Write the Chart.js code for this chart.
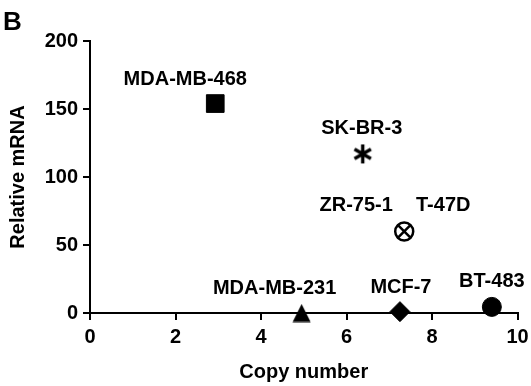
<!DOCTYPE html>
<html>
<head>
<meta charset="utf-8">
<script src="https://cdn.jsdelivr.net/npm/chart.js@4.4.1/dist/chart.umd.min.js"></script>
<style>
  html, body { margin: 0; padding: 0; background: #ffffff; }
  #wrap { position: relative; width: 531px; height: 386px; }
</style>
</head>
<body>
<div id="wrap"><canvas id="c" width="531" height="386"></canvas></div>
<script>
// Cell lines: gene copy number vs. relative mRNA level
const cellLines = ['MDA-MB-468', 'SK-BR-3', 'ZR-75-1', 'T-47D', 'MDA-MB-231', 'MCF-7', 'BT-483'];
const copyNumber = [2.93, 6.38, 7.35, 7.35, 4.95, 7.25, 9.4];
const relativeMRNA = [154, 117, 60, 60, 0, 1, 4.5];
const xTicks = [0, 2, 4, 6, 8, 10];
const yTicks = [0, 50, 100, 150, 200];

const FONT = '"Liberation Sans", Arial, sans-serif';

// Marker shapes drawn centred on their bounding box
function makeTriangle(size) {
  const cv = document.createElement('canvas');
  cv.width = size; cv.height = size;
  const g = cv.getContext('2d');
  g.fillStyle = '#000';
  g.beginPath();
  g.moveTo(size / 2, 0.5);
  g.lineTo(size - 0.5, size - 0.5);
  g.lineTo(0.5, size - 0.5);
  g.closePath();
  g.fill();
  return cv;
}
function makeAsterisk(size, lw) {
  const cv = document.createElement('canvas');
  cv.width = size; cv.height = size;
  const g = cv.getContext('2d');
  g.strokeStyle = '#000';
  g.lineWidth = lw;
  const c = size / 2, r = size / 2 - 1;
  g.beginPath();
  for (let k = 0; k < 3; k++) {
    const a = Math.PI / 2 + k * Math.PI / 3;
    g.moveTo(c + r * Math.cos(a), c - r * Math.sin(a));
    g.lineTo(c - r * Math.cos(a), c + r * Math.sin(a));
  }
  g.stroke();
  return cv;
}

// Per-line marker style and label placement (offset from the point, px)
const markerStyle = [
  { pointStyle: 'rect', radius: 12.5, fill: true },
  { pointStyle: makeAsterisk(21, 3.4), radius: 10, fill: true },
  { pointStyle: 'circle', radius: 9, fill: false, bw: 2.5 },
  { pointStyle: 'crossRot', radius: 9.5, fill: false, bw: 2.5 },
  { pointStyle: makeTriangle(19), radius: 10, fill: true },
  { pointStyle: 'rectRot', radius: 10, fill: true },
  { pointStyle: 'circle', radius: 9.5, fill: true }
];
const labelOffset = [[-30, -19], [-1, -20], [-48, -20], [39, -20], [-27, -19], [1, -19], [0, -20]];

const datasets = cellLines.map((name, i) => {
  const m = markerStyle[i];
  return {
    label: name,
    data: [{ x: copyNumber[i], y: relativeMRNA[i] }],
    pointStyle: m.pointStyle,
    pointRadius: m.radius,
    pointHoverRadius: m.radius,
    pointBackgroundColor: m.fill ? '#000' : 'rgba(0,0,0,0)',
    pointBorderColor: '#000',
    pointBorderWidth: m.bw || 1,
    showLine: false,
    clip: false
  };
});

const labelPlugin = {
  id: 'pointLabels',
  afterDatasetsDraw(chart) {
    const ctx = chart.ctx;
    ctx.save();
    ctx.fillStyle = '#000';
    ctx.font = 'bold 20px ' + FONT;
    ctx.textAlign = 'center';
    ctx.textBaseline = 'alphabetic';
    cellLines.forEach((name, i) => {
      const p = chart.getDatasetMeta(i).data[0];
      ctx.fillText(name, p.x + labelOffset[i][0], p.y + labelOffset[i][1]);
    });
    // panel letter
    ctx.textAlign = 'left';
    ctx.font = 'bold 26px ' + FONT;
    ctx.fillText('B', 3, 30);
    ctx.restore();
  }
};

const tickFont = { family: FONT, size: 20, weight: 'bold' };

new Chart(document.getElementById('c'), {
  type: 'scatter',
  data: { datasets },
  plugins: [labelPlugin],
  options: {
    responsive: false,
    animation: false,
    layout: { padding: { top: 41, right: 11, left: 0, bottom: 0 } },
    plugins: { legend: { display: false }, tooltip: { enabled: false } },
    scales: {
      x: {
        type: 'linear',
        min: 0, max: 10,
        afterFit(s) { s.height = 73; s.paddingLeft = 0; s.paddingRight = 0; },
        afterBuildTicks(s) { s.ticks = xTicks.map(v => ({ value: v })); },
        border: { color: '#000', width: 2 },
        grid: { drawOnChartArea: false, drawTicks: true, tickLength: 7, color: '#000', lineWidth: 2 },
        ticks: { font: tickFont, color: '#000', padding: 5, maxRotation: 0 },
        title: { display: true, text: 'Copy number', font: tickFont, color: '#000', padding: { top: 2, bottom: 2 } }
      },
      y: {
        type: 'linear',
        min: 0, max: 200,
        afterFit(s) { s.width = 90; s.paddingTop = 0; s.paddingBottom = 0; },
        afterBuildTicks(s) { s.ticks = yTicks.map(v => ({ value: v })); },
        border: { color: '#000', width: 2 },
        grid: { drawOnChartArea: false, drawTicks: true, tickLength: 7, color: '#000', lineWidth: 2 },
        ticks: { font: tickFont, color: '#000', padding: 5 },
        title: { display: true, text: 'Relative mRNA', font: tickFont, color: '#000', padding: { top: 6, bottom: 0 } }
      }
    }
  }
});
</script>
</body>
</html>
